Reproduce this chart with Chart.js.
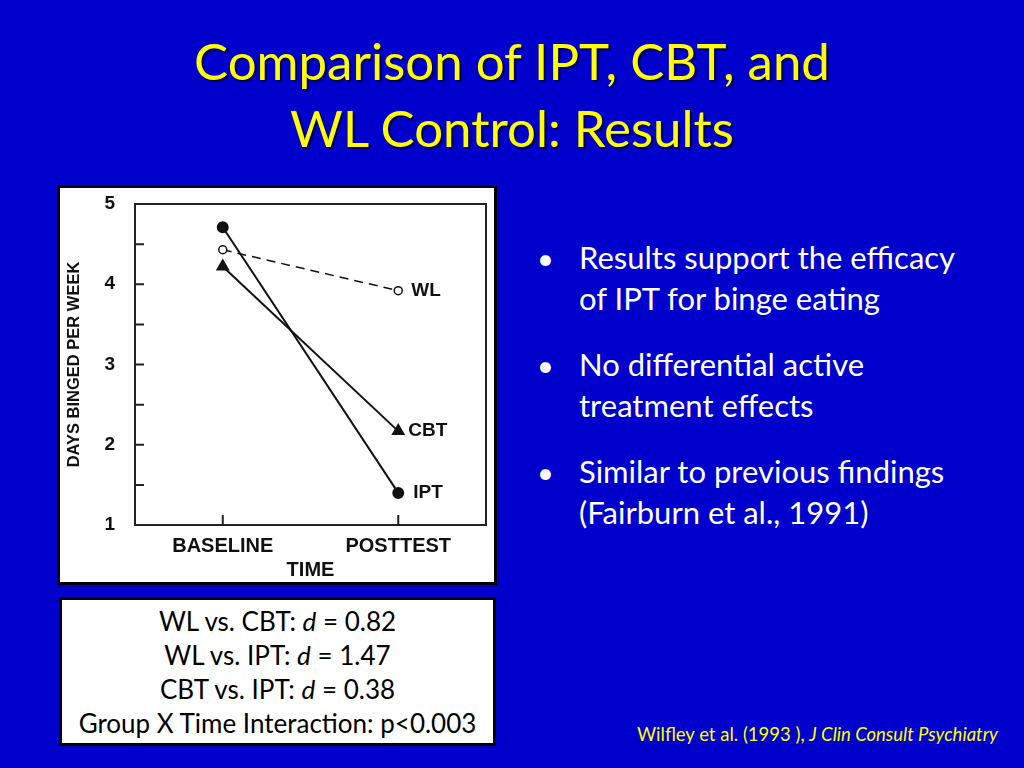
<!DOCTYPE html>
<html>
<head>
<meta charset="utf-8">
<script src="https://cdn.jsdelivr.net/npm/chart.js@4.4.0/dist/chart.umd.min.js"></script>
<style>
  html, body { margin: 0; padding: 0; }
  body { width: 1024px; height: 768px; background: #0000cc; position: relative; overflow: hidden; font-family: Lato, "Noto Sans", sans-serif; }
  .title { position: absolute; left: 0; top: 27px; width: 1024px; text-align: center; color: #ffff00; font-size: 51px; line-height: 67px; text-shadow: 2px 2px 2px rgba(0,0,0,0.6); }
  .chartbox { position: absolute; left: 57px; top: 185px; width: 434px; height: 394px; border: 3px solid #000; background: #fff; }
  .bullets { position: absolute; left: 537px; top: 237px; width: 437px; color: #fff; font-size: 31px; line-height: 41px; margin: 0; padding: 0; list-style: none; }
  .bullets li { position: relative; padding-left: 42px; margin-bottom: 25px; }
  .bullets li:before { content: "\2022"; position: absolute; left: 0; top: 0; font-size: 29px; }
  .stats { position: absolute; left: 59px; top: 597px; width: 431px; height: 139px; border: 3px solid #000; background: #fff; color: #000; text-align: center; font-size: 26px; line-height: 34px; padding-top: 4px; }
  .stats div { height: 34px; }
  .cite { position: absolute; left: 637px; top: 723px; color: #ffff00; font-size: 18.5px; }
</style>
</head>
<body>
<div class="title">Comparison of IPT, CBT, and<br>WL Control: Results</div>
<div class="chartbox"><canvas id="myChart" width="434" height="394"></canvas></div>
<ul class="bullets">
  <li>Results support the efficacy of IPT for binge eating</li>
  <li>No differential active treatment effects</li>
  <li>Similar to previous findings (Fairburn et al., 1991)</li>
</ul>
<div class="stats">
  <div>WL vs. CBT: <i>d</i> = 0.82</div>
  <div>WL vs. IPT: <i>d</i> = 1.47</div>
  <div>CBT vs. IPT: <i>d</i> = 0.38</div>
  <div>Group X Time Interaction: p&lt;0.003</div>
</div>
<div class="cite">Wilfley et al. (1993 ), <i>J Clin Consult Psychiatry</i></div>
<script>
  var timePoints = ['BASELINE', 'POSTTEST'];
  var ipt = [4.71, 1.40];
  var wl = [4.43, 3.92];
  var cbt = [4.22, 2.17];
  var yTicks = [1, 1.5, 2, 2.5, 3, 3.5, 4, 4.5, 5];

  // cadre du graphique, petites graduations vers l'interieur et noms des groupes
  var framePlugin = {
    id: 'frame',
    afterDatasetsDraw: function(chart) {
      var ctx = chart.ctx;
      var area = chart.chartArea;
      var xs = chart.scales.x;
      var ys = chart.scales.y;
      ctx.save();
      ctx.strokeStyle = '#222';
      ctx.lineWidth = 2;
      ctx.strokeRect(area.left, area.top, area.right - area.left, area.bottom - area.top);
      ctx.beginPath();
      yTicks.forEach(function(v) {
        var py = ys.getPixelForValue(v);
        ctx.moveTo(area.left, py);
        ctx.lineTo(area.left + 9, py);
      });
      timePoints.forEach(function(t, i) {
        var px = xs.getPixelForValue(i);
        ctx.moveTo(px, area.bottom);
        ctx.lineTo(px, area.bottom - 10);
      });
      ctx.stroke();
      ctx.fillStyle = '#111';
      ctx.font = 'bold 19px "Liberation Sans", Arial, sans-serif';
      ctx.textBaseline = 'middle';
      chart.data.datasets.forEach(function(ds, i) {
        var pt = chart.getDatasetMeta(i).data[1];
        ctx.fillText(ds.label, pt.x + ds.labelGap, pt.y);
      });
      ctx.restore();
    }
  };

  var tickFont = { family: '"Liberation Sans", Arial, sans-serif', size: 20, weight: 'bold' };

  var config = {
    type: 'line',
    data: {
      labels: timePoints,
      datasets: [{
        label: 'WL',
        data: wl,
        borderColor: '#111',
        borderWidth: 1.5,
        borderDash: [9, 6],
        pointStyle: 'circle',
        pointRadius: 4,
        pointBackgroundColor: '#fff',
        pointBorderColor: '#111',
        pointBorderWidth: 1.5,
        labelGap: 13
      }, {
        label: 'CBT',
        data: cbt,
        borderColor: '#111',
        borderWidth: 2,
        pointStyle: 'triangle',
        pointRadius: 6,
        pointBackgroundColor: '#111',
        pointBorderColor: '#111',
        labelGap: 10
      }, {
        label: 'IPT',
        data: ipt,
        borderColor: '#111',
        borderWidth: 2,
        pointStyle: 'circle',
        pointRadius: 5,
        pointBackgroundColor: '#111',
        pointBorderColor: '#111',
        labelGap: 15
      }]
    },
    options: {
      responsive: false,
      animation: false,
      layout: { padding: { left: 0, right: 4, top: 0, bottom: 0 } },
      plugins: { legend: { display: false }, tooltip: { enabled: false } },
      scales: {
        x: {
          offset: true,
          grid: { display: false, drawTicks: false },
          border: { display: false },
          ticks: { color: '#111', padding: 9, font: tickFont },
          title: { display: true, text: 'TIME', color: '#111', padding: { top: 2, bottom: 0 }, font: tickFont },
          afterFit: function(scale) { scale.height = 57; }
        },
        y: {
          min: 1,
          max: 5,
          grid: { display: false, drawTicks: false },
          border: { display: false },
          ticks: {
            stepSize: 0.5,
            color: '#111',
            padding: 20,
            font: { family: '"Liberation Sans", Arial, sans-serif', size: 19, weight: 'bold' },
            callback: function(v) { return Number.isInteger(v) ? v : ''; }
          },
          title: { display: true, text: 'DAYS BINGED PER WEEK', color: '#111', padding: { top: 5 }, font: { family: '"Liberation Sans", Arial, sans-serif', size: 16.5, weight: 'bold' } },
          afterFit: function(scale) {
            scale.width = 75;
            scale.paddingTop = 16;
            scale.paddingBottom = 0;
          }
        }
      }
    },
    plugins: [framePlugin]
  };

  var ctx = document.getElementById('myChart').getContext('2d');
  var myChart = new Chart(ctx, config);
</script>
</body>
</html>
